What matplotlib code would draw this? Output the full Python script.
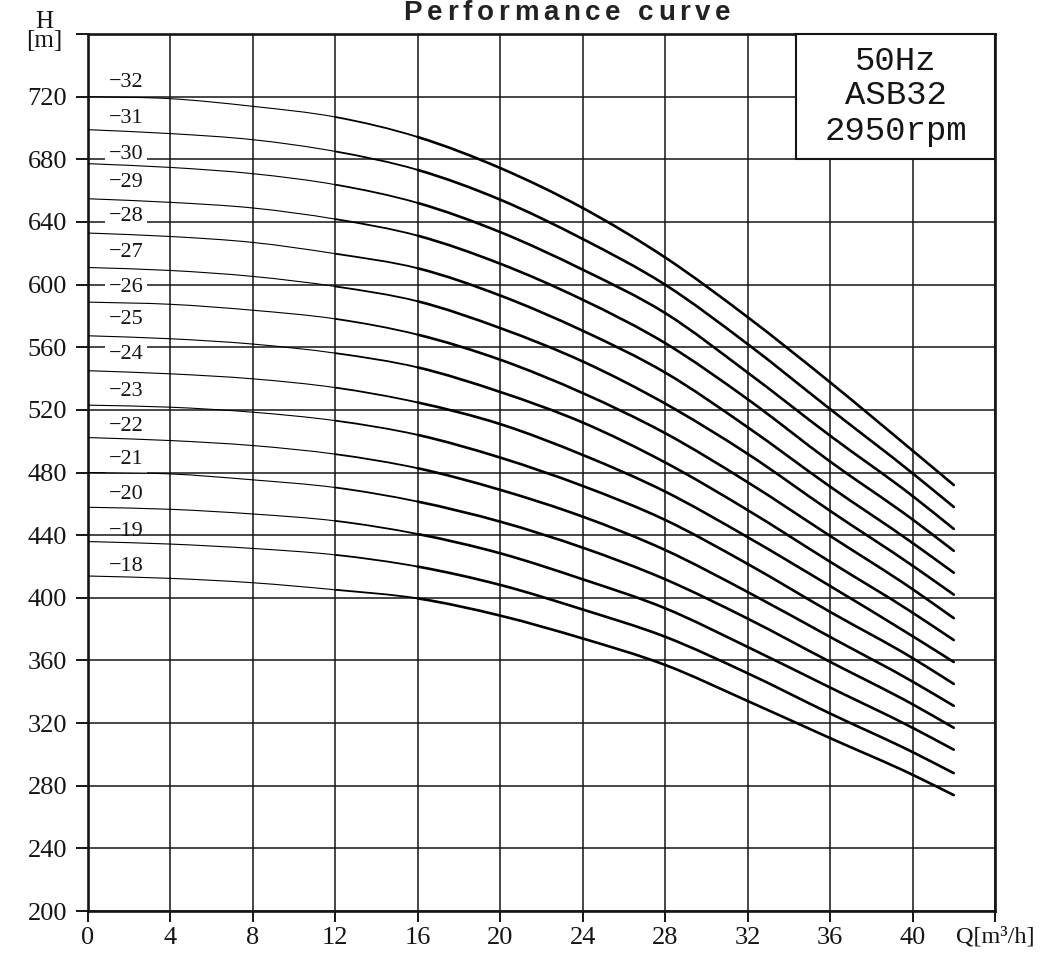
import matplotlib
matplotlib.use("Agg")
import matplotlib.pyplot as plt
import numpy as np
from matplotlib.patches import Rectangle, PathPatch
from matplotlib.path import Path

# ---------------- data ----------------
flow = [0, 4, 8, 12, 16, 20, 24, 28, 32, 36, 40, 42]

h32 = [720.0, 718.7, 713.8, 707.0, 694.2, 674.4, 648.9, 617.3, 579.2, 537.6, 494.0, 472.0]
h31 = [698.9, 696.4, 692.5, 685.0, 673.2, 654.2, 629.1, 599.9, 562.0, 520.5, 479.5, 458.0]
h30 = [677.2, 674.8, 670.8, 663.8, 652.1, 633.5, 609.5, 581.8, 543.8, 503.5, 465.0, 444.0]
h29 = [654.8, 652.5, 648.9, 641.8, 631.2, 613.3, 590.3, 562.6, 526.8, 487.0, 450.0, 430.0]
h28 = [632.9, 630.7, 626.9, 619.7, 610.4, 593.0, 570.5, 543.8, 508.9, 471.0, 435.0, 416.0]
h27 = [610.9, 609.0, 605.2, 598.8, 589.3, 572.2, 550.9, 524.0, 491.9, 455.5, 420.5, 402.0]
h26 = [588.8, 587.4, 583.6, 578.1, 568.0, 552.0, 530.7, 505.1, 473.8, 439.5, 405.5, 387.0]
h25 = [567.3, 565.4, 562.0, 556.2, 547.1, 531.4, 511.9, 486.4, 456.0, 423.0, 390.5, 373.0]
h24 = [545.0, 543.0, 539.8, 534.2, 524.7, 510.9, 491.2, 467.8, 438.7, 407.5, 375.5, 359.0]
h23 = [523.0, 521.7, 518.5, 513.1, 504.0, 489.5, 471.4, 449.7, 421.6, 391.0, 361.5, 345.0]
h22 = [502.3, 500.4, 497.2, 491.7, 482.7, 468.9, 451.8, 430.5, 403.7, 375.0, 346.5, 331.0]
h21 = [480.0, 479.1, 475.3, 470.4, 461.4, 448.6, 432.0, 411.8, 386.7, 359.1, 332.0, 317.0]
h20 = [457.8, 456.5, 453.5, 449.1, 440.7, 428.4, 411.8, 393.3, 368.6, 342.7, 317.0, 303.0]
h19 = [435.9, 434.3, 431.5, 427.4, 419.9, 408.2, 392.5, 375.1, 351.8, 326.1, 301.5, 288.0]
h18 = [413.9, 412.4, 409.6, 405.1, 399.6, 388.6, 374.0, 357.1, 334.1, 310.4, 287.0, 274.0]

stages = [18, 19, 20, 21, 22, 23, 24, 25, 26, 27, 28, 29, 30, 31, 32]
heads = [h18, h19, h20, h21, h22, h23, h24, h25, h26, h27, h28, h29, h30, h31, h32]
stage_labels = ["\u2212%d" % s for s in stages]

x_ticks = [0, 4, 8, 12, 16, 20, 24, 28, 32, 36, 40, 44]
x_tick_labels = ["0", "4", "8", "12", "16", "20", "24", "28", "32", "36", "40", "Q[m\u00b3/h]"]
y_ticks = [200, 240, 280, 320, 360, 400, 440, 480, 520, 560, 600, 640, 680, 720, 760]
y_tick_labels = ["200", "240", "280", "320", "360", "400", "440", "480", "520",
                 "560", "600", "640", "680", "720", ""]
info_lines = ["50Hz", "ASB32", "2950rpm"]
title_text = "Performance curve"
y_axis_label = "H\n[m]"

# ---------------- layout ----------------
label_y = [417.2, 439.6, 463.0, 485.4, 506.7, 529.1, 552.5, 574.8, 595.0,
           617.4, 640.9, 662.2, 680.2, 703.1, 726.1]
masked_labels = {21, 24, 26, 28, 30}   # labels drawn over a white patch

W, H = 1064, 958
fig = plt.figure(figsize=(W / 100, H / 100), dpi=100)
ax = fig.add_axes([88 / W, 47 / H, 907 / W, 877 / H])
ax.set_xlim(0, 44)
ax.set_ylim(200, 760)

ink = "#151515"
ax.set_xticks(x_ticks)
ax.set_xticklabels(x_tick_labels)
ax.set_yticks(y_ticks)
ax.set_yticklabels(y_tick_labels)
ax.tick_params(axis="y", direction="out", length=8.6, width=1.4, pad=6.5,
               labelsize=19, colors=ink)
ax.tick_params(axis="x", direction="out", length=8.0, width=1.4, pad=3.5,
               labelsize=19, colors=ink)
for lab in ax.get_xticklabels() + ax.get_yticklabels():
    lab.set_fontfamily("Liberation Serif")
ax.get_xticklabels()[-1].set_fontsize(17.5)

ax.grid(True, color=ink, linewidth=1.1)
ax.set_axisbelow(True)
for sp in ax.spines.values():
    sp.set_linewidth(1.9)
    sp.set_color(ink)

# curves: smooth cubic segments through the read points,
# thin on the left, heavier on the right (as in the reference)
fx = np.array(flow, dtype=float)
for s, h in zip(stages, heads):
    hy = np.array(h, dtype=float)
    slope = np.gradient(hy, fx)
    for i in range(len(fx) - 1):
        dx = fx[i + 1] - fx[i]
        verts = [(fx[i], hy[i]),
                 (fx[i] + dx / 3, hy[i] + slope[i] * dx / 3),
                 (fx[i + 1] - dx / 3, hy[i + 1] - slope[i + 1] * dx / 3),
                 (fx[i + 1], hy[i + 1])]
        mid = (fx[i] + fx[i + 1]) / 2
        lw = float(np.interp(mid, [0, 10, 14, 18], [0.8, 0.8, 1.3, 1.9]))
        path = Path(verts, [Path.MOVETO, Path.CURVE4, Path.CURVE4, Path.CURVE4])
        ax.add_patch(PathPatch(path, facecolor="none", edgecolor="black",
                               linewidth=lw, capstyle="round", zorder=4))

for s, ly, lab in zip(stages, label_y, stage_labels):
    kw = {}
    if s in masked_labels:
        kw["bbox"] = dict(facecolor="white", edgecolor="none", pad=2.5)
    ax.text(1.85, ly, lab, ha="center", va="baseline", fontsize=16,
            family="Liberation Serif", color=ink, zorder=3, **kw)

# info box
ax.add_patch(Rectangle((34.36, 680), 44 - 34.36, 80, facecolor="white",
                       edgecolor=ink, linewidth=1.5, zorder=5, clip_on=False))
for txt, yb in zip(info_lines, [737.3, 715.3, 692.5]):
    ax.text(39.18, yb, txt, ha="center", va="baseline", fontsize=24.5,
            family="Liberation Mono", color=ink, zorder=6)

# H [m] label at the top tick
ax.text(-2.1, 761.5, y_axis_label, ha="center", va="center", fontsize=18,
        family="Liberation Serif", color=ink, linespacing=0.8,
        transform=ax.transData, clip_on=False)

# letter-spaced bold title
renderer = fig.canvas.get_renderer()
fs = 20
widths = []
for ch in title_text:
    if ch == " ":
        widths.append(None)
        continue
    t = fig.text(0, 0, ch, fontsize=fs, family="Liberation Sans", weight="bold")
    widths.append(t.get_window_extent(renderer).width)
    t.remove()
space_w = 0.278 * fs * 100 / 72
widths = [space_w if w is None else w for w in widths]
target = 327.0
gap = (target - sum(widths)) / (len(widths) - 1)
x = 567.0 - target / 2
base_y = 1 - 19.5 / H
for ch, w in zip(title_text, widths):
    if ch != " ":
        fig.text(x / W, base_y, ch, fontsize=fs, family="Liberation Sans",
                 weight="bold", color="#222222", ha="left", va="baseline")
    x += w + gap

fig.savefig("out.png", dpi=100)
